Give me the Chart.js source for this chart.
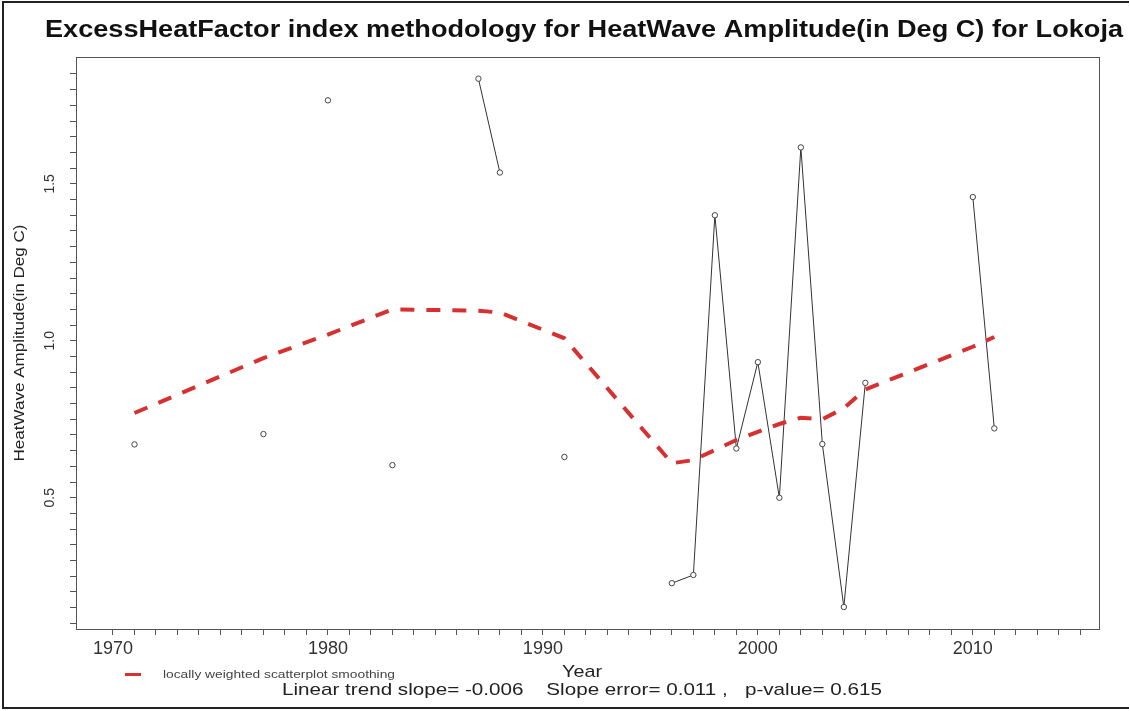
<!DOCTYPE html>
<html><head><meta charset="utf-8">
<script src="https://cdn.jsdelivr.net/npm/chart.js@4.4.1/dist/chart.umd.min.js"></script>
<style>html,body{margin:0;padding:0;background:#fff;}#wrap{width:1130px;height:711px;position:relative;}</style>
</head><body><div id="wrap"><canvas id="c" width="1130" height="711"></canvas></div>
<script>
// ---- data ----
const years = [1971,1977,1980,1983,1987,1988,1991,1996,1997,1998,1999,2000,2001,2002,2003,2004,2005,2010,2011];
const amplitude = [0.670,0.703,1.766,0.604,1.835,1.536,0.630,0.228,0.254,1.400,0.657,0.932,0.500,1.616,0.671,0.152,0.866,1.458,0.721];
const lowess = [0.770,0.945,1.020,1.100,1.096,1.090,1.008,0.610,0.620,0.652,0.684,0.710,0.735,0.755,0.750,0.785,0.845,0.981,1.012];
const xTickLabels = ['1970','1980','1990','2000','2010'];
const yTickLabels = ['0.5','1.0','1.5'];
const titleText = 'ExcessHeatFactor index methodology for HeatWave Amplitude(in Deg C) for Lokoja';
const yTitle = 'HeatWave Amplitude(in Deg C)';
const xTitle = 'Year';
const statsText = 'Linear trend slope= -0.006    Slope error= 0.011 ,   p-value= 0.615';
const legendText = 'locally weighted scatterplot smoothing';

// observed series with breaks where years are not consecutive
const obsData = [];
years.forEach((yr, i) => {
  if (i > 0 && yr - years[i-1] > 1) obsData.push({x: (yr + years[i-1]) / 2, y: null});
  obsData.push({x: yr, y: amplitude[i]});
});
const lowData = years.map((yr, i) => ({x: yr, y: lowess[i]}));

function fitText(ctx, text, cx, cy, font, width, color, rot, align) {
  ctx.save();
  ctx.font = font;
  ctx.fillStyle = color;
  ctx.textBaseline = 'middle';
  ctx.textAlign = 'left';
  const w = ctx.measureText(text).width;
  const s = width / w;
  ctx.translate(cx, cy);
  if (rot) ctx.rotate(rot);
  ctx.scale(s, 1);
  ctx.fillText(text, align === 'left' ? 0 : -w / 2, 0);
  ctx.restore();
}

const decor = {
  id: 'decor',
  afterDraw(chart) {
    const ctx = chart.ctx;
    const a = chart.chartArea;
    ctx.save();
    // plot box
    ctx.strokeStyle = '#555';
    ctx.lineWidth = 1;
    ctx.strokeRect(a.left + 0.5, a.top + 0.5, a.right - a.left, a.bottom - a.top);
    // outer frame
    ctx.strokeStyle = '#222';
    ctx.lineWidth = 2;
    ctx.beginPath();
    ctx.moveTo(1129, 2); ctx.lineTo(3, 2); ctx.lineTo(3, 708); ctx.lineTo(1129, 708);
    ctx.stroke();
    // legend swatch
    ctx.strokeStyle = '#d63030';
    ctx.lineWidth = 3;
    ctx.beginPath(); ctx.moveTo(125, 674.5); ctx.lineTo(141, 674.5); ctx.stroke();
    ctx.restore();
    fitText(ctx, titleText, 584, 31, 'bold 23px "Liberation Sans", Arial, sans-serif', 1078, '#111', 0);
    fitText(ctx, yTitle, 20, 343, '15px "Liberation Sans", Arial, sans-serif', 237, '#222', -Math.PI / 2);
    fitText(ctx, xTitle, 582, 672, '17px "Liberation Sans", Arial, sans-serif', 40, '#222', 0);
    fitText(ctx, statsText, 582, 690, '17px "Liberation Sans", Arial, sans-serif', 600, '#222', 0);
    fitText(ctx, legendText, 163, 675, '11px "Liberation Sans", Arial, sans-serif', 232, '#444', 0, 'left');
  }
};

new Chart(document.getElementById('c'), {
  type: 'line',
  data: {
    datasets: [
      {
        label: legendText,
        data: lowData,
        borderColor: '#d63030',
        borderWidth: 4,
        borderDash: [14, 12],
        pointRadius: 0,
        fill: false,
        tension: 0,
        order: 0
      },
      {
        label: 'observed',
        data: obsData,
        borderColor: '#333',
        borderWidth: 1,
        pointRadius: 2.7,
        pointBorderWidth: 1,
        pointBorderColor: '#444',
        pointBackgroundColor: '#fff',
        spanGaps: false,
        fill: false,
        tension: 0,
        order: 1
      }
    ]
  },
  options: {
    responsive: false,
    animation: false,
    devicePixelRatio: 1,
    layout: {padding: {left: 0, top: 57, right: 31, bottom: 42}},
    plugins: {legend: {display: false}, tooltip: {enabled: false}, title: {display: false}},
    scales: {
      x: {
        type: 'linear',
        min: 1968.28,
        max: 2015.87,
        afterBuildTicks(scale) {
          const t = [];
          for (let y = 1970; y <= 2015; y++) t.push({value: y});
          scale.ticks = t;
        },
        afterFit(scale) { scale.height = 40; },
        ticks: {
          autoSkip: false,
          maxRotation: 0,
          padding: 3,
          color: '#333',
          font: {family: '"Liberation Sans", Arial, sans-serif', size: 18},
          callback(v) { const s = String(v); return xTickLabels.includes(s) ? s : ''; }
        },
        grid: {display: true, drawOnChartArea: false, drawTicks: true, tickLength: 6, color: '#555', lineWidth: 1},
        border: {display: true, color: '#555', width: 1}
      },
      y: {
        type: 'linear',
        min: 0.082,
        max: 1.904,
        afterBuildTicks(scale) {
          const t = [];
          for (let k = 2; k <= 37; k++) t.push({value: Math.round(k * 5) / 100});
          scale.ticks = t;
        },
        afterFit(scale) { scale.width = 76; },
        ticks: {
          autoSkip: false,
          minRotation: 90,
          maxRotation: 90,
          crossAlign: 'center',
          padding: 10,
          color: '#333',
          font: {family: '"Liberation Sans", Arial, sans-serif', size: 14},
          callback(v) { const s = Number(v).toFixed(1); return (yTickLabels.includes(s) && Math.abs(v - Number(s)) < 1e-6) ? s : ''; }
        },
        grid: {display: true, drawOnChartArea: false, drawTicks: true, tickLength: 6, color: '#555', lineWidth: 1},
        border: {display: true, color: '#555', width: 1}
      }
    }
  },
  plugins: [decor]
});
</script>
</body></html>
